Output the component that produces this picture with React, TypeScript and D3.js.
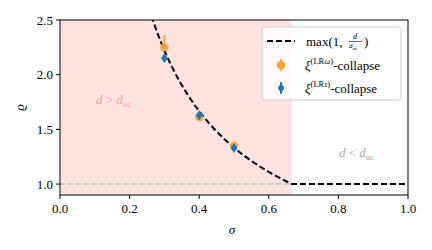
import React from "react";
import * as d3 from "d3";

const sigmaOmega = [0.3, 0.4, 0.5];
const rhoOmega = [2.25, 1.61, 1.35];
const errOmegaUp = [0.11, 0.02, 0.02];
const errOmegaDown = [0.0, 0.0, 0.0];
const sigmaTau = [0.3, 0.4, 0.5];
const rhoTau = [2.15, 1.63, 1.33];
const xTicks = [0.0, 0.2, 0.4, 0.6, 0.8, 1.0];
const yTicks = [1.0, 1.5, 2.0, 2.5];
const sigmaUc = 2 / 3;

const W = 432, H = 250;
const M = { l: 60, r: 408, t: 20, b: 195 };
const FONT = "'Liberation Serif', serif";

export default function App() {
  const x = d3.scaleLinear().domain([0, 1]).range([M.l, M.r]);
  const y = d3.scaleLinear().domain([0.9, 2.5]).range([M.b, M.t]);

  const curveSig = d3.range(0.2, 1.0001, 0.002);
  const line = d3
    .line<number>()
    .x((s) => x(s))
    .y((s) => y(Math.max(1, 2 / (3 * s))));

  const diamond = (cx: number, cy: number, w: number, h: number) =>
    `M${cx},${cy - h} L${cx + w},${cy} L${cx},${cy + h} L${cx - w},${cy} Z`;

  return (
    <svg width={W} height={H} style={{ position: "absolute", left: 0, top: 0 }} fontFamily={FONT}>
      <defs>
        <clipPath id="plotclip">
          <rect x={M.l} y={M.t} width={M.r - M.l} height={M.b - M.t} />
        </clipPath>
      </defs>
      <rect x={0} y={0} width={W} height={H} fill="white" />
      <rect x={x(0)} y={M.t} width={x(sigmaUc) - x(0)} height={M.b - M.t} fill="#fde4e1" />
      <line x1={x(0)} x2={x(sigmaUc)} y1={y(1)} y2={y(1)} stroke="#bdbdbd" strokeWidth={1.5} strokeDasharray="5.5,2.5" />
      <g clipPath="url(#plotclip)">
        <path d={line(curveSig) || ""} fill="none" stroke="black" strokeWidth={2} strokeDasharray="6,3" />
      </g>
      {sigmaOmega.map((s, i) => (
        <g key={"o" + i}>
          <line x1={x(s)} x2={x(s)} y1={y(rhoOmega[i] + errOmegaUp[i])} y2={y(rhoOmega[i] - errOmegaDown[i])} stroke="#ffa235" strokeWidth={1.8} />
          <circle cx={x(s)} cy={y(rhoOmega[i])} r={4.2} fill="#ffa235" opacity={0.9} />
        </g>
      ))}
      {sigmaTau.map((s, i) => (
        <path key={"t" + i} d={diamond(x(s), y(rhoTau[i]), 3.4, 5)} fill="#1f77b4" />
      ))}
      <text x={96} y={104} fill="#f4a098" fontSize={13}>
        <tspan fontStyle="italic">d</tspan> &gt; <tspan fontStyle="italic">d</tspan>
        <tspan fontSize={9} dy={3}>uc</tspan>
      </text>
      <text x={339} y={157} fill="#a8a8a8" fontSize={13}>
        <tspan fontStyle="italic">d</tspan> &lt; <tspan fontStyle="italic">d</tspan>
        <tspan fontSize={9} dy={3}>uc</tspan>
      </text>
      {/* axes frame */}
      <rect x={M.l} y={M.t} width={M.r - M.l} height={M.b - M.t} fill="none" stroke="black" strokeWidth={1} />
      {xTicks.map((t) => (
        <g key={"xt" + t}>
          <line x1={x(t)} x2={x(t)} y1={M.b} y2={M.b + 4} stroke="black" />
          <text x={x(t)} y={M.b + 18} textAnchor="middle" fontSize={13}>
            {t.toFixed(1)}
          </text>
        </g>
      ))}
      {yTicks.map((t) => (
        <g key={"yt" + t}>
          <line x1={M.l - 4} x2={M.l} y1={y(t)} y2={y(t)} stroke="black" />
          <text x={M.l - 7} y={y(t) + 4.5} textAnchor="end" fontSize={13}>
            {t.toFixed(1)}
          </text>
        </g>
      ))}
      <text x={232} y={234} textAnchor="middle" fontSize={13} fontStyle="italic">σ</text>
      <text transform={`translate(24,${(M.t + M.b) / 2}) rotate(-90)`} textAnchor="middle" fontSize={13} fontStyle="italic">ϱ</text>
      {/* legend */}
      <g>
        <rect x={262} y={27} width={139} height={73} rx={3} fill="white" fillOpacity={0.8} stroke="#cccccc" strokeWidth={1} />
        <line x1={267} x2={295} y1={41} y2={41} stroke="black" strokeWidth={2} strokeDasharray="6,3" />
        <text x={306} y={46} fontSize={13}>max(1,</text>
        <text x={355} y={39} fontSize={8} fontStyle="italic" textAnchor="middle">d</text>
        <line x1={349} x2={362} y1={41.5} y2={41.5} stroke="black" strokeWidth={0.6} />
        <text x={349} y={48} fontSize={7} fontStyle="italic">d<tspan fontSize={5} dy={1.5} fontStyle="normal">uc</tspan></text>
        <text x={364} y={46} fontSize={13}>)</text>
        <line x1={281} x2={281} y1={59} y2={71} stroke="#ffa235" strokeWidth={1.8} />
        <circle cx={281} cy={65} r={4.2} fill="#ffa235" />
        <text x={305} y={70} fontSize={13}>
          <tspan fontStyle="italic">ξ</tspan>
          <tspan fontSize={8.5} dy={-6}>(LR</tspan><tspan fontSize={8.5} fontStyle="italic">ω</tspan><tspan fontSize={8.5}>)</tspan>
          <tspan dy={6}>-collapse</tspan>
        </text>
        <line x1={281} x2={281} y1={82} y2={94} stroke="#1f77b4" strokeWidth={1.8} />
        <path d={diamond(281, 88, 3.4, 5)} fill="#1f77b4" />
        <text x={305} y={93} fontSize={13}>
          <tspan fontStyle="italic">ξ</tspan>
          <tspan fontSize={8.5} dy={-6}>(LR</tspan><tspan fontSize={8.5} fontStyle="italic">τ</tspan><tspan fontSize={8.5}>)</tspan>
          <tspan dy={6}>-collapse</tspan>
        </text>
      </g>
    </svg>
  );
}
